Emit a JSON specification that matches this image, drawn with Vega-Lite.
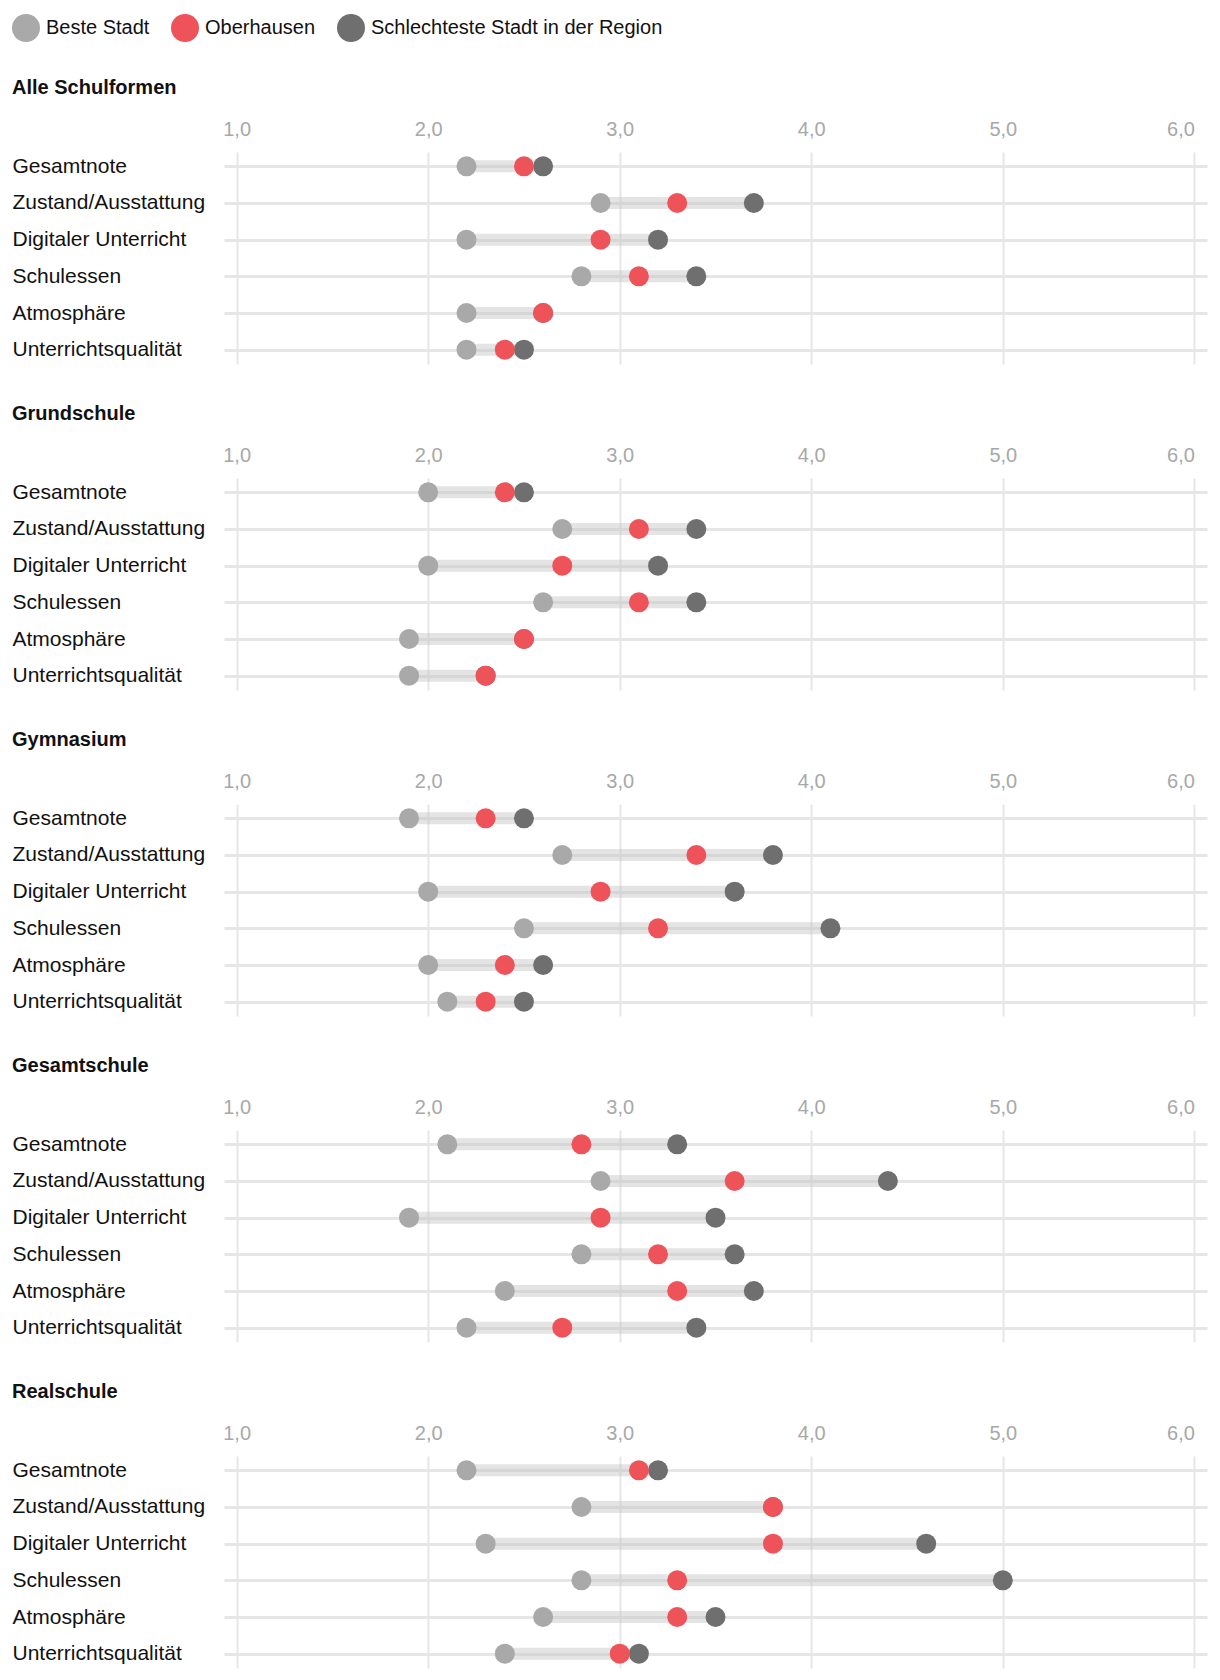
{
  "$schema": "https://vega.github.io/schema/vega-lite/v6.json",
  "padding": {"top": 14, "left": 12, "right": 5, "bottom": 5},
  "background": "white",
  "config": {
    "font": "Liberation Sans",
    "view": {"stroke": null},
    "legend": {"orient": "none", "legendX": -212, "legendY": -138, "direction": "horizontal", "title": null, "symbolSize": 784, "symbolType": "circle", "symbolStrokeWidth": 0, "symbolOpacity": 1, "labelFontSize": 20, "labelColor": "#111111", "labelOffset": 6, "labelLimit": 600, "columnPadding": 21, "padding": 0},
    "title": {"anchor": "start", "frame": "bounds", "fontSize": 20, "fontWeight": "bold", "color": "#111111", "offset": 21},
    "axisX": {"orient": "top", "labelExpr": "replace(format(datum.value, '.1f'), '.', ',')", "title": null, "grid": true, "gridColor": "#e6e6e6", "gridWidth": 2, "ticks": false, "domain": false, "labelColor": "#a8a8a8", "labelFontSize": 20, "labelPadding": 13, "labelAlign": {"condition": {"test": "datum.value === 6", "value": "right"}, "value": "center"}},
    "axisY": {"title": null, "grid": true, "gridColor": "#e6e6e6", "gridWidth": 3, "ticks": false, "domain": false, "labelAlign": "left", "labelBaseline": "middle", "labelPadding": 212, "labelFontSize": 21, "labelColor": "#111111", "labelLimit": 300}
  },
  "datasets": {
    "noten": [
      {"schulform": "Alle Schulformen", "kategorie": "Gesamtnote", "beste": 2.2, "oberhausen": 2.5, "schlechteste": 2.6},
      {"schulform": "Alle Schulformen", "kategorie": "Zustand/Ausstattung", "beste": 2.9, "oberhausen": 3.3, "schlechteste": 3.7},
      {"schulform": "Alle Schulformen", "kategorie": "Digitaler Unterricht", "beste": 2.2, "oberhausen": 2.9, "schlechteste": 3.2},
      {"schulform": "Alle Schulformen", "kategorie": "Schulessen", "beste": 2.8, "oberhausen": 3.1, "schlechteste": 3.4},
      {"schulform": "Alle Schulformen", "kategorie": "Atmosphäre", "beste": 2.2, "oberhausen": 2.6, "schlechteste": 2.6},
      {"schulform": "Alle Schulformen", "kategorie": "Unterrichtsqualität", "beste": 2.2, "oberhausen": 2.4, "schlechteste": 2.5},
      {"schulform": "Grundschule", "kategorie": "Gesamtnote", "beste": 2.0, "oberhausen": 2.4, "schlechteste": 2.5},
      {"schulform": "Grundschule", "kategorie": "Zustand/Ausstattung", "beste": 2.7, "oberhausen": 3.1, "schlechteste": 3.4},
      {"schulform": "Grundschule", "kategorie": "Digitaler Unterricht", "beste": 2.0, "oberhausen": 2.7, "schlechteste": 3.2},
      {"schulform": "Grundschule", "kategorie": "Schulessen", "beste": 2.6, "oberhausen": 3.1, "schlechteste": 3.4},
      {"schulform": "Grundschule", "kategorie": "Atmosphäre", "beste": 1.9, "oberhausen": 2.5, "schlechteste": 2.5},
      {"schulform": "Grundschule", "kategorie": "Unterrichtsqualität", "beste": 1.9, "oberhausen": 2.3, "schlechteste": 2.3},
      {"schulform": "Gymnasium", "kategorie": "Gesamtnote", "beste": 1.9, "oberhausen": 2.3, "schlechteste": 2.5},
      {"schulform": "Gymnasium", "kategorie": "Zustand/Ausstattung", "beste": 2.7, "oberhausen": 3.4, "schlechteste": 3.8},
      {"schulform": "Gymnasium", "kategorie": "Digitaler Unterricht", "beste": 2.0, "oberhausen": 2.9, "schlechteste": 3.6},
      {"schulform": "Gymnasium", "kategorie": "Schulessen", "beste": 2.5, "oberhausen": 3.2, "schlechteste": 4.1},
      {"schulform": "Gymnasium", "kategorie": "Atmosphäre", "beste": 2.0, "oberhausen": 2.4, "schlechteste": 2.6},
      {"schulform": "Gymnasium", "kategorie": "Unterrichtsqualität", "beste": 2.1, "oberhausen": 2.3, "schlechteste": 2.5},
      {"schulform": "Gesamtschule", "kategorie": "Gesamtnote", "beste": 2.1, "oberhausen": 2.8, "schlechteste": 3.3},
      {"schulform": "Gesamtschule", "kategorie": "Zustand/Ausstattung", "beste": 2.9, "oberhausen": 3.6, "schlechteste": 4.4},
      {"schulform": "Gesamtschule", "kategorie": "Digitaler Unterricht", "beste": 1.9, "oberhausen": 2.9, "schlechteste": 3.5},
      {"schulform": "Gesamtschule", "kategorie": "Schulessen", "beste": 2.8, "oberhausen": 3.2, "schlechteste": 3.6},
      {"schulform": "Gesamtschule", "kategorie": "Atmosphäre", "beste": 2.4, "oberhausen": 3.3, "schlechteste": 3.7},
      {"schulform": "Gesamtschule", "kategorie": "Unterrichtsqualität", "beste": 2.2, "oberhausen": 2.7, "schlechteste": 3.4},
      {"schulform": "Realschule", "kategorie": "Gesamtnote", "beste": 2.2, "oberhausen": 3.1, "schlechteste": 3.2},
      {"schulform": "Realschule", "kategorie": "Zustand/Ausstattung", "beste": 2.8, "oberhausen": 3.8, "schlechteste": 3.8},
      {"schulform": "Realschule", "kategorie": "Digitaler Unterricht", "beste": 2.3, "oberhausen": 3.8, "schlechteste": 4.6},
      {"schulform": "Realschule", "kategorie": "Schulessen", "beste": 2.8, "oberhausen": 3.3, "schlechteste": 5.0},
      {"schulform": "Realschule", "kategorie": "Atmosphäre", "beste": 2.6, "oberhausen": 3.3, "schlechteste": 3.5},
      {"schulform": "Realschule", "kategorie": "Unterrichtsqualität", "beste": 2.4, "oberhausen": 3.0, "schlechteste": 3.1}
    ]
  },
  "data": {"name": "noten"},
  "spacing": 40,
  "vconcat": [
    {"title": "Alle Schulformen", "transform": [{"filter": "datum.schulform === 'Alle Schulformen'"}], "width": 983, "height": 212,
     "layer": [
      {"mark": {"type": "rule", "strokeWidth": 12, "color": "#c2c2c2", "opacity": 0.44},
       "encoding": {"x": {"field": "beste", "type": "quantitative", "scale": {"domain": [0.934, 6.066], "nice": false, "zero": false}, "axis": {"values": [1, 2, 3, 4, 5, 6]}},
        "x2": {"field": "schlechteste"},
        "y": {"field": "kategorie", "type": "nominal", "sort": ["Gesamtnote", "Zustand/Ausstattung", "Digitaler Unterricht", "Schulessen", "Atmosphäre", "Unterrichtsqualität"], "scale": {"type": "point", "padding": 0.39}}}},
      {"transform": [{"fold": ["beste", "schlechteste", "oberhausen"], "as": ["gruppe", "note"]}],
       "mark": {"type": "circle", "size": 400, "opacity": 1},
       "encoding": {"x": {"field": "note", "type": "quantitative"},
        "y": {"field": "kategorie", "type": "nominal", "sort": ["Gesamtnote", "Zustand/Ausstattung", "Digitaler Unterricht", "Schulessen", "Atmosphäre", "Unterrichtsqualität"]},
        "color": {"field": "gruppe", "type": "nominal", "scale": {"domain": ["beste", "oberhausen", "schlechteste"], "range": ["#a9a9a9", "#ef535a", "#6f6f6f"]}, "legend": {"labelExpr": "datum.label === 'beste' ? 'Beste Stadt' : datum.label === 'oberhausen' ? 'Oberhausen' : 'Schlechteste Stadt in der Region'"}}}}
     ]},
    {"title": "Grundschule", "transform": [{"filter": "datum.schulform === 'Grundschule'"}], "width": 983, "height": 212,
     "layer": [
      {"mark": {"type": "rule", "strokeWidth": 12, "color": "#c2c2c2", "opacity": 0.44},
       "encoding": {"x": {"field": "beste", "type": "quantitative", "scale": {"domain": [0.934, 6.066], "nice": false, "zero": false}, "axis": {"values": [1, 2, 3, 4, 5, 6]}},
        "x2": {"field": "schlechteste"},
        "y": {"field": "kategorie", "type": "nominal", "sort": ["Gesamtnote", "Zustand/Ausstattung", "Digitaler Unterricht", "Schulessen", "Atmosphäre", "Unterrichtsqualität"], "scale": {"type": "point", "padding": 0.39}}}},
      {"transform": [{"fold": ["beste", "schlechteste", "oberhausen"], "as": ["gruppe", "note"]}],
       "mark": {"type": "circle", "size": 400, "opacity": 1},
       "encoding": {"x": {"field": "note", "type": "quantitative"},
        "y": {"field": "kategorie", "type": "nominal", "sort": ["Gesamtnote", "Zustand/Ausstattung", "Digitaler Unterricht", "Schulessen", "Atmosphäre", "Unterrichtsqualität"]},
        "color": {"field": "gruppe", "type": "nominal", "scale": {"domain": ["beste", "oberhausen", "schlechteste"], "range": ["#a9a9a9", "#ef535a", "#6f6f6f"]}, "legend": {"labelExpr": "datum.label === 'beste' ? 'Beste Stadt' : datum.label === 'oberhausen' ? 'Oberhausen' : 'Schlechteste Stadt in der Region'"}}}}
     ]},
    {"title": "Gymnasium", "transform": [{"filter": "datum.schulform === 'Gymnasium'"}], "width": 983, "height": 212,
     "layer": [
      {"mark": {"type": "rule", "strokeWidth": 12, "color": "#c2c2c2", "opacity": 0.44},
       "encoding": {"x": {"field": "beste", "type": "quantitative", "scale": {"domain": [0.934, 6.066], "nice": false, "zero": false}, "axis": {"values": [1, 2, 3, 4, 5, 6]}},
        "x2": {"field": "schlechteste"},
        "y": {"field": "kategorie", "type": "nominal", "sort": ["Gesamtnote", "Zustand/Ausstattung", "Digitaler Unterricht", "Schulessen", "Atmosphäre", "Unterrichtsqualität"], "scale": {"type": "point", "padding": 0.39}}}},
      {"transform": [{"fold": ["beste", "schlechteste", "oberhausen"], "as": ["gruppe", "note"]}],
       "mark": {"type": "circle", "size": 400, "opacity": 1},
       "encoding": {"x": {"field": "note", "type": "quantitative"},
        "y": {"field": "kategorie", "type": "nominal", "sort": ["Gesamtnote", "Zustand/Ausstattung", "Digitaler Unterricht", "Schulessen", "Atmosphäre", "Unterrichtsqualität"]},
        "color": {"field": "gruppe", "type": "nominal", "scale": {"domain": ["beste", "oberhausen", "schlechteste"], "range": ["#a9a9a9", "#ef535a", "#6f6f6f"]}, "legend": {"labelExpr": "datum.label === 'beste' ? 'Beste Stadt' : datum.label === 'oberhausen' ? 'Oberhausen' : 'Schlechteste Stadt in der Region'"}}}}
     ]},
    {"title": "Gesamtschule", "transform": [{"filter": "datum.schulform === 'Gesamtschule'"}], "width": 983, "height": 212,
     "layer": [
      {"mark": {"type": "rule", "strokeWidth": 12, "color": "#c2c2c2", "opacity": 0.44},
       "encoding": {"x": {"field": "beste", "type": "quantitative", "scale": {"domain": [0.934, 6.066], "nice": false, "zero": false}, "axis": {"values": [1, 2, 3, 4, 5, 6]}},
        "x2": {"field": "schlechteste"},
        "y": {"field": "kategorie", "type": "nominal", "sort": ["Gesamtnote", "Zustand/Ausstattung", "Digitaler Unterricht", "Schulessen", "Atmosphäre", "Unterrichtsqualität"], "scale": {"type": "point", "padding": 0.39}}}},
      {"transform": [{"fold": ["beste", "schlechteste", "oberhausen"], "as": ["gruppe", "note"]}],
       "mark": {"type": "circle", "size": 400, "opacity": 1},
       "encoding": {"x": {"field": "note", "type": "quantitative"},
        "y": {"field": "kategorie", "type": "nominal", "sort": ["Gesamtnote", "Zustand/Ausstattung", "Digitaler Unterricht", "Schulessen", "Atmosphäre", "Unterrichtsqualität"]},
        "color": {"field": "gruppe", "type": "nominal", "scale": {"domain": ["beste", "oberhausen", "schlechteste"], "range": ["#a9a9a9", "#ef535a", "#6f6f6f"]}, "legend": {"labelExpr": "datum.label === 'beste' ? 'Beste Stadt' : datum.label === 'oberhausen' ? 'Oberhausen' : 'Schlechteste Stadt in der Region'"}}}}
     ]},
    {"title": "Realschule", "transform": [{"filter": "datum.schulform === 'Realschule'"}], "width": 983, "height": 212,
     "layer": [
      {"mark": {"type": "rule", "strokeWidth": 12, "color": "#c2c2c2", "opacity": 0.44},
       "encoding": {"x": {"field": "beste", "type": "quantitative", "scale": {"domain": [0.934, 6.066], "nice": false, "zero": false}, "axis": {"values": [1, 2, 3, 4, 5, 6]}},
        "x2": {"field": "schlechteste"},
        "y": {"field": "kategorie", "type": "nominal", "sort": ["Gesamtnote", "Zustand/Ausstattung", "Digitaler Unterricht", "Schulessen", "Atmosphäre", "Unterrichtsqualität"], "scale": {"type": "point", "padding": 0.39}}}},
      {"transform": [{"fold": ["beste", "schlechteste", "oberhausen"], "as": ["gruppe", "note"]}],
       "mark": {"type": "circle", "size": 400, "opacity": 1},
       "encoding": {"x": {"field": "note", "type": "quantitative"},
        "y": {"field": "kategorie", "type": "nominal", "sort": ["Gesamtnote", "Zustand/Ausstattung", "Digitaler Unterricht", "Schulessen", "Atmosphäre", "Unterrichtsqualität"]},
        "color": {"field": "gruppe", "type": "nominal", "scale": {"domain": ["beste", "oberhausen", "schlechteste"], "range": ["#a9a9a9", "#ef535a", "#6f6f6f"]}, "legend": {"labelExpr": "datum.label === 'beste' ? 'Beste Stadt' : datum.label === 'oberhausen' ? 'Oberhausen' : 'Schlechteste Stadt in der Region'"}}}}
     ]}
  ]
}
